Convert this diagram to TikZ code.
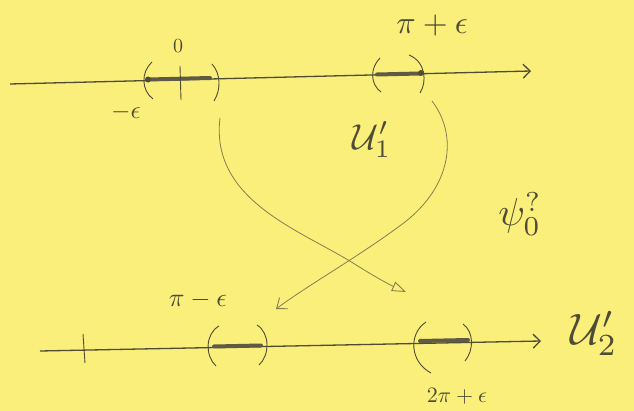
\documentclass[tikz,border=0pt]{standalone}
\usetikzlibrary{arrows.meta}
\definecolor{paper}{RGB}{249,239,122}
\definecolor{pencil}{RGB}{80,76,52}
\definecolor{lightpencil}{RGB}{135,126,78}
\definecolor{shade}{RGB}{95,90,70}
\begin{document}
\begin{tikzpicture}[x=1pt,y=-1pt,
  axis/.style={draw=pencil,line width=1.3pt,-{Straight Barb[length=7pt,width=14pt,line width=1.3pt]}},
  seg/.style={draw=shade,line width=4pt,line cap=round},
  paren/.style={draw=pencil,line width=0.9pt},
  mapcurve/.style={draw=lightpencil,line width=0.8pt},
  lbl/.style={text=pencil,inner sep=0pt},
  dotmark/.style={circle,fill=pencil,inner sep=0pt,minimum size=6pt}]
\fill[paper] (0,0) rectangle (634,411);
\useasboundingbox (0,0) rectangle (634,411);

% top axis
\coordinate (tl) at (10,84);
\coordinate (tr) at (531,71);
\draw[axis] (tl) -- (tr);
\draw[seg] (149,79.5) -- (210,78);
\draw[seg] (377,74.5) -- (420,73.5);
\node[dotmark] (mEps) at (148,79.5) {};
\node[dotmark] (piEps) at (421,73) {};
\draw[paren] (180,66) -- (181,100);
\draw[paren] (152,62) .. controls (141,72) and (141,90) .. (153,99);
\draw[paren] (212,64) .. controls (221,74) and (221,90) .. (214,101);
\draw[paren] (380,58) .. controls (370,68) and (370,84) .. (381,92);
\draw[paren] (409,55) .. controls (426,62) and (427,82) .. (420,93);
\node[lbl] (zero) at (178,46) {\scalebox{2}{$0$}};
\node[lbl] (meps) at (126,112) {\scalebox{2.5}{$-\epsilon$}};
\node[lbl] (pieps) at (432,26) {\scalebox{3.2}{$\pi+\epsilon$}};

% bottom axis
\coordinate (bl) at (40,351);
\coordinate (br) at (541,341);
\draw[axis] (bl) -- (br);
\draw[paren] (83,334) -- (85,363);
\draw[seg] (214,346.5) -- (261,345.5);
\draw[seg] (420,341) -- (468,340);
\draw[paren] (219,326) .. controls (205,334) and (205,356) .. (216,366);
\draw[paren] (257,325) .. controls (270,333) and (270,355) .. (259,365);
\draw[paren] (426,322) .. controls (408,334) and (410,362) .. (431,373);
\draw[paren] (463,324) .. controls (474,332) and (474,350) .. (465,361);
\node[lbl] (pimeps) at (198,300) {\scalebox{2.6}{$\pi-\epsilon$}};
\node[lbl] (twopieps) at (457,396) {\scalebox{2.2}{$2\pi+\epsilon$}};

% labels
\node[lbl] (U1) at (372,140) {\scalebox{3.6}{$\mathcal{U}'_1$}};
\node[lbl] (U2) at (594,333) {\scalebox{4.4}{$\mathcal{U}'_2$}};
\node[lbl] (psi) at (520,214) {\scalebox{3.9}{$\psi^{?}_{0}$}};

% mapping curves
\coordinate (a0) at (220,118);
\coordinate (a1) at (406,292);
\coordinate (b0) at (432,101);
\coordinate (b1) at (276,309);
\draw[mapcurve,-{Triangle[open,length=14pt,width=10pt,line width=0.9pt]}]
  (a0) .. controls (210,200) and (300,230) .. (353,263)
       .. controls (372,275) and (388,284) .. (a1);
\draw[mapcurve,-{Straight Barb[length=9pt,width=14pt,line width=0.9pt]}]
  (b0) .. controls (458,135) and (452,185) .. (405,222)
       .. controls (360,256) and (308,285) .. (b1);
\end{tikzpicture}
\end{document}
